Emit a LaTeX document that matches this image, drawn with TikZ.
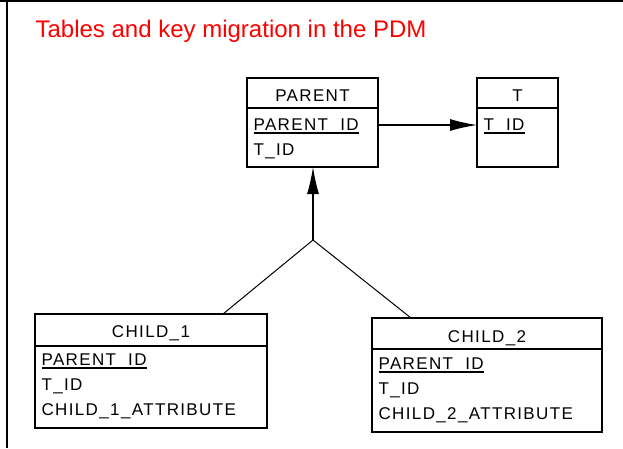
\documentclass[tikz,border=0pt]{standalone}
\usepackage{fontspec}
\usetikzlibrary{arrows.meta}

\newfontfamily\headfont{Liberation Sans}
\newfontfamily\tablefont[LetterSpace=8]{Liberation Sans}
% primary key columns: underline sits where the underscore is
\newcommand{\pkey}[1]{\setbox0=\hbox{#1}\rlap{\rule[-3.6pt]{\wd0}{1.5pt}}\box0}

\tikzset{
	headline/.style={anchor=base west, inner sep=0pt, text=red, font=\headfont\fontsize{24}{24}\selectfont},
	tabname/.style={anchor=base, inner sep=0pt, font=\tablefont\fontsize{17}{17}\selectfont},
	column/.style={anchor=base west, inner sep=0pt, font=\tablefont\fontsize{17}{17}\selectfont},
	fk/.style={-{Latex[length=27pt,width=12pt]}}
}

\begin{document}
\begin{tikzpicture}[x=1pt,y=-1pt,line width=1.2pt]
		\useasboundingbox (0,0) rectangle (623,448);
		\draw[line width=2pt] (0,1) -- (623,1);
		\draw[line width=2pt] (7,0) -- (7,448);
		\node[headline] (caption) at (35,37) {Tables and key migration in the PDM};
		
		% PARENT
		\draw (247,78) rectangle ++(131,89) ++(-131,-59) -- ++(131,0);
		\node[tabname] (parentname) at (312.5,101) {PARENT};
		\node[column] (parentpk) at (253,130) {\pkey{PARENT\_ID}};
		\node[column] (parentfk) at (253,155) {T\_ID};
		\coordinate (parentright) at (378,125);
		\coordinate (parentbottom) at (313,167);
		
		% T
		\draw (477,78) rectangle ++(81,89) ++(-81,-59) -- ++(81,0);
		\node[tabname] (tname) at (517.5,101) {T};
		\node[column] (tpk) at (483,130) {\pkey{T\_ID}};
		\coordinate (tleft) at (477,125);
		
		% CHILD_1
		\draw (35,314) rectangle ++(232,114) ++(-232,-82) -- ++(232,0);
		\node[tabname] (childonename) at (151,337) {CHILD\_1};
		\node[column] (childonepk) at (41,365) {\pkey{PARENT\_ID}};
		\node[column] (childonefk) at (41,390) {T\_ID};
		\node[column] (childoneattr) at (41,415) {CHILD\_1\_ATTRIBUTE};
		\coordinate (childonetop) at (223,314);
		
		% CHILD_2
		\draw (372,318) rectangle ++(230,114) ++(-230,-83) -- ++(230,0);
		\node[tabname] (childtwoname) at (487,342) {CHILD\_2};
		\node[column] (childtwopk) at (378,369) {\pkey{PARENT\_ID}};
		\node[column] (childtwofk) at (378,394) {T\_ID};
		\node[column] (childtwoattr) at (378,419) {CHILD\_2\_ATTRIBUTE};
		\coordinate (childtwotop) at (411,318);
		
		% references
		\coordinate (junction) at (313,240);
		\draw[fk] (parentright) -- (tleft);
		\draw[fk] (junction) -- (parentbottom);
		\draw[line width=1pt] (childonetop) -- (junction) -- (childtwotop);
	\end{tikzpicture}
\end{document}
